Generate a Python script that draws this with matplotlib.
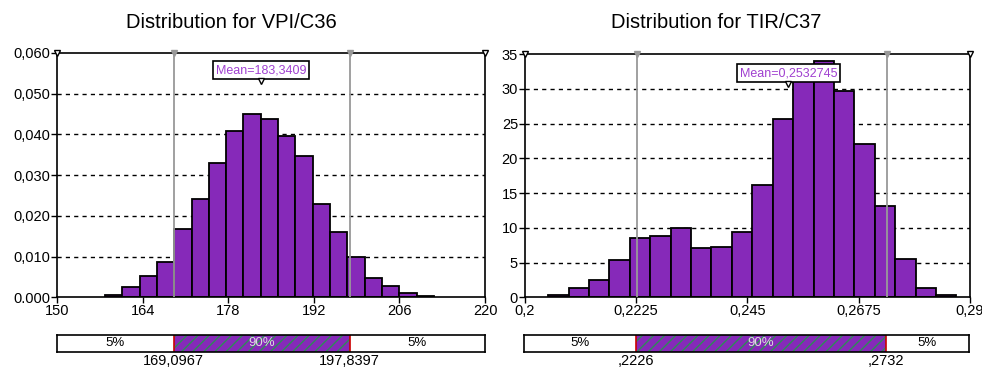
import matplotlib.pyplot as plt
import numpy as np

plt.rcParams['font.family'] = ['Liberation Sans', 'DejaVu Sans']

# VPI/C36 histogram (bin left edge, width, probability)
vpi_start = 157.85
vpi_width = 2.83
vpi_heights = [0.0007, 0.0025, 0.0053, 0.0086, 0.0167, 0.0242, 0.0331, 0.0409, 0.0451,
               0.0437, 0.0395, 0.0346, 0.0229, 0.0160, 0.0100, 0.0047, 0.0027, 0.0011, 0.0004]
vpi_p5, vpi_p95, vpi_mean = 169.0967, 197.8397, 183.3409
vpi_xticks = [150, 164, 178, 192, 206, 220]
vpi_yticks = [0, 0.01, 0.02, 0.03, 0.04, 0.05, 0.06]
vpi_ylabels = ['0.000', '0,010', '0,020', '0,030', '0,040', '0,050', '0,060']

# TIR/C37 histogram
tir_start = 0.20471
tir_width = 0.004126
tir_heights = [0.4, 1.4, 2.5, 5.4, 8.5, 8.9, 10.0, 7.1, 7.3, 9.4,
               16.1, 25.6, 31.5, 34.0, 29.7, 22.1, 13.1, 5.6, 1.3, 0.4]
tir_p5, tir_p95, tir_mean = 0.2226, 0.2732, 0.2532745
tir_xticks = [0.2, 0.2225, 0.245, 0.2675, 0.29]
tir_xlabels = ['0,2', '0,2225', '0,245', '0,2675', '0,29']
tir_yticks = [0, 5, 10, 15, 20, 25, 30, 35]

BAR = '#8629b9'
GRAY = '#999999'

plt.rcParams['hatch.color'] = '#2e8b57'
plt.rcParams['hatch.linewidth'] = 1.0

fig = plt.figure(figsize=(9.82, 3.70), dpi=100)


def panel(rect, bar_rect, start, width, heights, xlim, ylim, xticks, xlabels,
          yticks, ylabels, p5, p95, mean, mean_txt, p5_txt, p95_txt, title,
          title_x, box_y, tri_y):
    ax = fig.add_axes(rect)
    lefts = start + width * np.arange(len(heights))
    ax.bar(lefts, heights, width=width, align='edge', color=BAR,
           edgecolor='black', linewidth=1.3, zorder=2)
    ax.set_xlim(*xlim)
    ax.set_ylim(*ylim)
    ax.set_xticks(xticks)
    ax.set_xticklabels(xlabels, fontsize=10.5)
    ax.set_yticks(yticks)
    ax.set_yticklabels(ylabels, fontsize=10.5)
    ax.tick_params(length=4, width=1, pad=1)
    for s in ax.spines.values():
        s.set_linewidth(1.2)
    for y in yticks[1:-1]:
        ax.axhline(y, color='black', linestyle=(0, (3, 3)), linewidth=1, zorder=1)
    for p in (p5, p95):
        ax.axvline(p, color=GRAY, linewidth=1.3, zorder=3)
        ax.plot([p], [ylim[1]], marker='v', color=GRAY, markersize=5,
                clip_on=False, zorder=4)
    for xc in xlim:
        ax.plot([xc], [ylim[1]], marker='v', mfc='white', mec='black',
                markersize=5, clip_on=False, zorder=5)
    # mean label with its pointer
    ax.text(mean, box_y, mean_txt, transform=ax.get_xaxis_transform(),
            ha='center', va='center', fontsize=9, color='#a040d0',
            bbox=dict(boxstyle='square,pad=0.25', fc='white', ec='black', lw=1.2),
            zorder=7)
    ax.plot([mean], [tri_y], marker='v', mfc='white', mec='black',
            markersize=4, transform=ax.get_xaxis_transform(), zorder=8)
    fig.text(title_x, 0.94, title, ha='center', va='center', fontsize=14.5)

    # percentile band below the chart
    bx = fig.add_axes(bar_rect)
    bx.set_xlim(*xlim)
    bx.set_ylim(0, 1)
    bx.set_xticks([])
    bx.set_yticks([])
    for s in bx.spines.values():
        s.set_linewidth(1.2)
    bx.axvspan(p5, p95, facecolor=BAR, edgecolor='#2e8b57', hatch='///', linewidth=0)
    bx.axvline(p5, color='#cc0000', linewidth=1.2)
    bx.axvline(p95, color='#cc0000', linewidth=1.2)
    bx.text((xlim[0] + p5) / 2, 0.5, '5%', ha='center', va='center', fontsize=9.5)
    bx.text((p5 + p95) / 2, 0.5, '90%', ha='center', va='center', fontsize=9.5,
            color='#dddddd')
    bx.text((p95 + xlim[1]) / 2, 0.5, '5%', ha='center', va='center', fontsize=9.5)
    bx.text(p5, -0.1, p5_txt, ha='center', va='top', fontsize=10.5)
    bx.text(p95, -0.1, p95_txt, ha='center', va='top', fontsize=10.5)
    return ax


panel([0.058, 0.196, 0.436, 0.661], [0.058, 0.049, 0.436, 0.046],
      vpi_start, vpi_width, vpi_heights, (150, 220), (0, 0.06),
      vpi_xticks, [str(t) for t in vpi_xticks], vpi_yticks, vpi_ylabels,
      vpi_p5, vpi_p95, vpi_mean, 'Mean=183,3409', '169,0967', '197,8397',
      'Distribution for VPI/C36', 0.236, 0.93, 0.885)

panel([0.5346, 0.196, 0.4532, 0.658], [0.5336, 0.049, 0.4532, 0.046],
      tir_start, tir_width, tir_heights, (0.2, 0.29), (0, 35),
      tir_xticks, tir_xlabels, tir_yticks, [str(t) for t in tir_yticks],
      tir_p5, tir_p95, tir_mean, 'Mean=0,2532745', ',2226', ',2732',
      'Distribution for TIR/C37', 0.729, 0.922, 0.877)

fig.savefig('out.png', dpi=100)
